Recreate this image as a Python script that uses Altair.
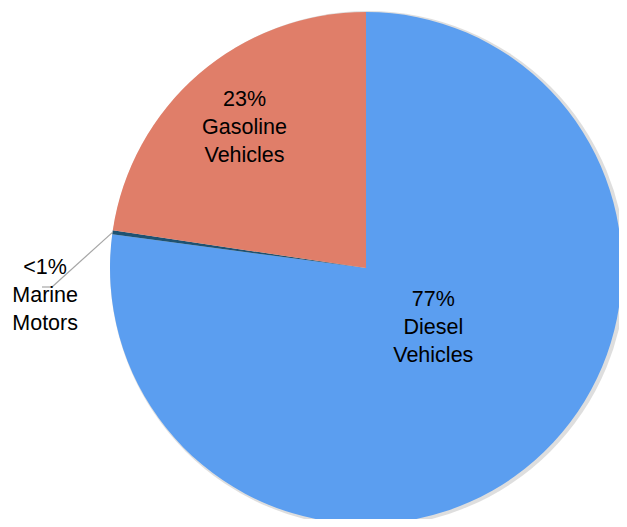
import math
import altair as alt
import pandas as pd

# ---- data ----
categories = ["Diesel Vehicles", "Marine Motors", "Gasoline Vehicles"]
values = [77.1, 0.25, 22.65]
labels = ["77%\nDiesel\nVehicles", "<1%\nMarine\nMotors", "23%\nGasoline\nVehicles"]
colors = ["#5B9EF0", "#1E5272", "#E07E69"]

df = pd.DataFrame({
    "category": categories,
    "value": values,
    "label": labels,
    "order": list(range(len(categories))),
})

# ---- layout ----
CX, CY, R = 358, 260, 256
TOTAL = sum(values)
FONT = "Liberation Sans"

color_scale = alt.Scale(domain=categories, range=colors)

base = alt.Chart(df)

shadow = alt.Chart(df).mark_arc(outerRadius=R + 2, color="#c8c8c8", opacity=0.6).encode(
    theta=alt.Theta("sum(value):Q", scale=alt.Scale(domain=[0, TOTAL])),
    x=alt.value(CX + 2), y=alt.value(CY + 1),
)

pie = base.mark_arc(outerRadius=R, stroke=None).encode(
    theta=alt.Theta("value:Q", stack=True, scale=alt.Scale(domain=[0, TOTAL])),
    color=alt.Color("category:N", scale=color_scale, legend=None),
    order=alt.Order("order:Q"),
    x=alt.value(CX), y=alt.value(CY),
)

lab_base = base.transform_window(
    cum="sum(value)", sort=[alt.SortField("order")]
).transform_calculate(
    mid="datum.cum - datum.value / 2"
)

def label_layer(cat, radius, dx, dy):
    return lab_base.transform_filter(alt.datum.category == cat).mark_text(
        radius=radius, dx=dx, dy=dy, font=FONT, fontSize=21.5, lineBreak="\n",
        lineHeight=28, align="center", baseline="middle", color="#000000",
    ).encode(
        theta=alt.Theta("mid:Q", scale=alt.Scale(domain=[0, TOTAL])),
        text="label:N",
        x=alt.value(CX), y=alt.value(CY),
    )

t_diesel = label_layer("Diesel Vehicles", 90, 8, -36)
t_gas = label_layer("Gasoline Vehicles", 186, 0, -27)
t_marine = label_layer("Marine Motors", 320, -4, 45)

# leader line for the small slice, starting at the slice's mid angle
mid_angle = (values[0] + values[1] / 2) / TOTAL * 2 * math.pi
sx = CX + R * math.sin(mid_angle)
sy = CY - R * math.cos(mid_angle)
ex, ey = 44, 279
leader1 = alt.Chart(df).mark_rule(color="#a6a6a6", strokeWidth=1.2).encode(
    x=alt.value(sx), y=alt.value(sy), x2=alt.value(ex), y2=alt.value(ey)
).transform_filter(alt.datum.order == 0)
leader2 = alt.Chart(df).mark_rule(color="#a6a6a6", strokeWidth=1.2).encode(
    x=alt.value(ex), y=alt.value(ey), x2=alt.value(ex - 10), y2=alt.value(ey)
).transform_filter(alt.datum.order == 0)

chart = alt.layer(shadow, pie, leader1, leader2, t_diesel, t_gas, t_marine).properties(
    width=611, height=511, autosize=alt.AutoSizeParams(type="none"), padding=0,
    background="white",
).configure_view(stroke=None)

chart.save("out.html", embed_options={"renderer": "svg", "actions": False})
